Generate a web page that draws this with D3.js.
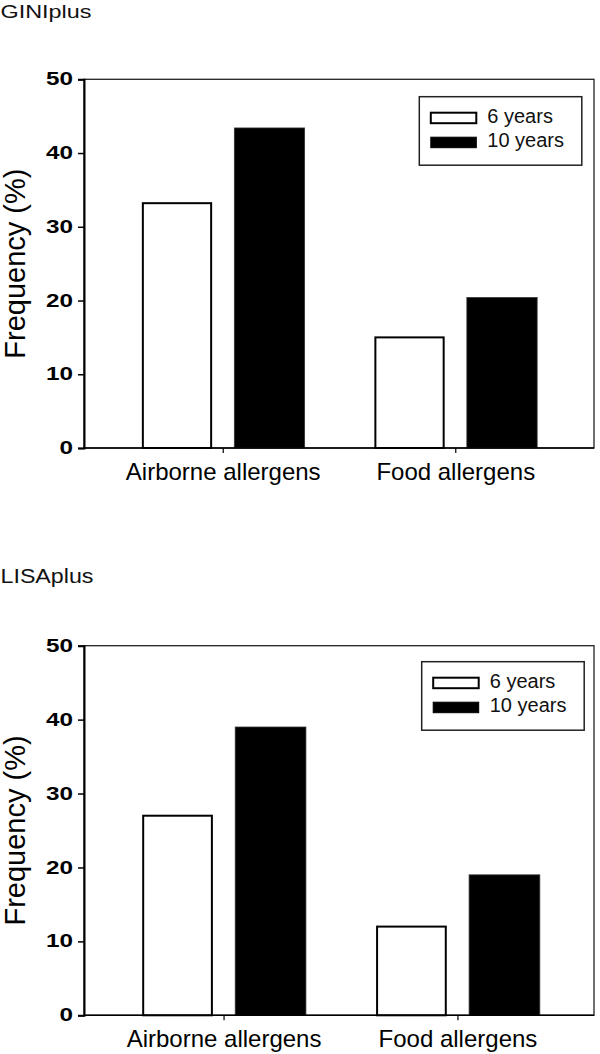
<!DOCTYPE html>
<html>
<head>
<meta charset="utf-8">
<script src="https://cdn.jsdelivr.net/npm/d3@7"></script>
<style>
  html, body { margin: 0; padding: 0; background: #fff; }
  svg { display: block; font-family: "Liberation Sans", Arial, sans-serif; }
</style>
</head>
<body>
<svg id="chart" width="600" height="1054"></svg>
<script>
// ---- data ----
const categories = ["Airborne allergens", "Food allergens"];
const seriesNames = ["6 years", "10 years"];
const giniSixYears = [33.2, 15.0];
const giniTenYears = [43.4, 20.4];
const lisaSixYears = [27.0, 12.0];
const lisaTenYears = [39.0, 19.0];
const yTicks = [0, 10, 20, 30, 40, 50];
const panelTitles = ["GINIplus", "LISAplus"];
const yLabel = "Frequency (%)";

// ---- layout ----
const panels = [
  { title: panelTitles[0], titleY: 17.5, titleLen: 91, titleSize: 18.5,
    six: giniSixYears, ten: giniTenYears,
    top: 79.3, bottom: 448, xr: [85, 594], legend: { x: 419.3, y: 96.7 } },
  { title: panelTitles[1], titleY: 583, titleLen: 93, titleSize: 20,
    six: lisaSixYears, ten: lisaTenYears,
    top: 645.7, bottom: 1015.3, xr: [85, 597], legend: { x: 421.7, y: 661.7 } }
];
const plotLeft = 84, plotRight = 594;
const fills = ["#ffffff", "#000000"];

const svg = d3.select("#chart");

panels.forEach(p => {
  const g = svg.append("g");
  const rows = categories.map((c, i) => ({ cat: c, vals: [p.six[i], p.ten[i]] }));

  const y = d3.scaleLinear().domain([0, 50]).range([p.bottom, p.top]);
  const x0 = d3.scaleBand().domain(categories).range(p.xr).paddingInner(0.3).paddingOuter(0.2445);
  const x1 = d3.scaleBand().domain(seriesNames).range([0, x0.bandwidth()]).paddingInner(0.24).paddingOuter(0);

  // title
  g.append("text")
    .attr("x", 0.5).attr("y", p.titleY)
    .attr("font-size", p.titleSize)
    .attr("textLength", p.titleLen).attr("lengthAdjust", "spacingAndGlyphs")
    .attr("fill", "#111")
    .text(p.title);

  // frame (top & right)
  g.append("rect")
    .attr("x", plotLeft).attr("y", p.top)
    .attr("width", plotRight - plotLeft).attr("height", p.bottom - p.top)
    .attr("fill", "none").attr("stroke", "#222").attr("stroke-width", 1.3);

  // bars
  rows.forEach(r => {
    r.vals.forEach((v, k) => {
      g.append("rect")
        .attr("x", x0(r.cat) + x1(seriesNames[k]) + (k === 0 ? 1 : 0))
        .attr("y", y(v))
        .attr("width", x1.bandwidth() - (k === 0 ? 2 : 0))
        .attr("height", y(0) - y(v))
        .attr("fill", fills[k])
        .attr("stroke", k === 0 ? "#000" : "#333")
        .attr("stroke-width", k === 0 ? 2 : 0.8);
    });
  });

  // y axis
  const yAxis = g.append("g")
    .attr("transform", `translate(${plotLeft},0)`)
    .call(d3.axisLeft(y).tickValues(yTicks).tickSize(6).tickPadding(5).tickFormat(d3.format("d")));
  yAxis.select(".domain").attr("stroke", "#000").attr("stroke-width", 2);
  yAxis.selectAll(".tick line").attr("stroke", "#000").attr("stroke-width", 1.5);
  yAxis.selectAll(".tick text")
    .attr("font-size", 17.5).attr("font-weight", "bold").attr("fill", "#000")
    .attr("font-family", "Liberation Sans, Arial, sans-serif")
    .attr("x", -11)
    .each(function (d) {
      const s = String(d);
      d3.select(this).attr("textLength", 13.5 * s.length).attr("lengthAdjust", "spacingAndGlyphs");
    });

  // x axis
  const xAxis = g.append("g")
    .attr("transform", `translate(0,${p.bottom})`)
    .call(d3.axisBottom(x0).tickSize(5).tickPadding(10));
  xAxis.select(".domain").remove();
  g.append("line")
    .attr("x1", plotLeft).attr("x2", plotRight)
    .attr("y1", p.bottom).attr("y2", p.bottom)
    .attr("stroke", "#000").attr("stroke-width", 1.6);
  xAxis.selectAll(".tick line").attr("stroke", "#000").attr("stroke-width", 1.2);
  xAxis.selectAll(".tick text")
    .attr("font-size", 24).attr("fill", "#000")
    .attr("font-family", "Liberation Sans, Arial, sans-serif");

  // y label
  g.append("text")
    .attr("transform", `translate(25,${(p.top + p.bottom) / 2}) rotate(-90)`)
    .attr("text-anchor", "middle")
    .attr("font-size", 29).attr("fill", "#000")
    .text(yLabel);

  // legend
  const lg = g.append("g").attr("transform", `translate(${p.legend.x},${p.legend.y})`);
  lg.append("rect")
    .attr("width", 162.5).attr("height", 68.5)
    .attr("fill", "#fff").attr("stroke", "#222").attr("stroke-width", 1.5);
  seriesNames.forEach((s, k) => {
    lg.append("rect")
      .attr("x", 11.5).attr("y", 16 + k * 24.5)
      .attr("width", 45.5).attr("height", 10.5)
      .attr("fill", fills[k]).attr("stroke", "#000").attr("stroke-width", k === 0 ? 2 : 1);
    lg.append("text")
      .attr("x", 68).attr("y", 26.5 + k * 24)
      .attr("font-size", 20).attr("fill", "#111")
      .text(s);
  });
});
</script>
</body>
</html>
